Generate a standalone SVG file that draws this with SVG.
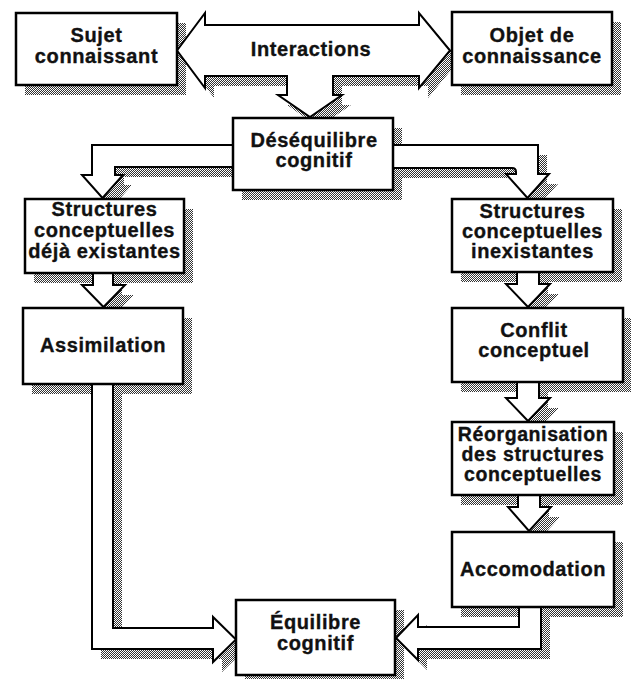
<svg xmlns="http://www.w3.org/2000/svg" width="631" height="679" viewBox="0 0 631 679">
  <defs>
    <pattern id="dots" width="2" height="2" patternUnits="userSpaceOnUse">
      <rect x="0" y="0" width="1" height="1" fill="#333"/>
      <rect x="1" y="1" width="1" height="1" fill="#333"/>
    </pattern>
    <style>
      .box { fill: #fff; stroke: #000; stroke-width: 2.5; }
      .arrow { fill: #fff; stroke: #000; stroke-width: 2; stroke-linejoin: miter; }
      .shadow { fill: url(#dots); stroke: none; }
      .lbl { font-family: "Liberation Sans", Arial, Helvetica, sans-serif; font-weight: bold; font-size: 20px; letter-spacing: 0.6px; text-anchor: middle; fill: #111; stroke: #111; stroke-width: 0.35px; }
      .sm { font-size: 19.5px; }
    </style>
  </defs>
  <rect x="0" y="0" width="631" height="679" fill="#fff"/>

  <g id="shadows" transform="translate(9,10)">
    <rect class="shadow" x="16" y="13" width="161" height="72"/>
    <rect class="shadow" x="452" y="12" width="160" height="73"/>
    <rect class="shadow" x="233" y="118" width="160" height="72"/>
    <rect class="shadow" x="25" y="199" width="159" height="74"/>
    <rect class="shadow" x="23" y="308" width="160" height="76"/>
    <rect class="shadow" x="452" y="199" width="161" height="73"/>
    <rect class="shadow" x="452" y="308" width="171" height="74"/>
    <rect class="shadow" x="452" y="422" width="162" height="73"/>
    <rect class="shadow" x="452" y="532" width="162" height="75"/>
    <rect class="shadow" x="236" y="600" width="159" height="75"/>
    <path class="shadow" d="M177,50.5 L205,13 L205,25 L419,25 L419,13 L450,50.5 L419,88 L419,76 L333,76 L333,95 L342,95 L310,117 L278,95 L287,95 L287,76 L205,76 L205,88 Z"/>
    <path class="shadow" d="M236,145 L92,145 L92,175 L82,175 L102.5,198 L123,175 L115,175 L115,167 L236,167 Z"/>
    <path class="shadow" d="M390,145 L538,145 L538,174 L549,174 L527.5,198 L506,174 L516,174 L516,168 L390,168 Z"/>
    <path class="shadow" d="M93,270 L93,285 L82,285 L103.5,307 L125,285 L113,285 L113,270 Z"/>
    <path class="shadow" d="M92,381 L92,649 L213,649 L213,662 L236,639.5 L213,617 L213,628 L113,628 L113,381 Z"/>
    <path class="shadow" d="M517,270 L517,284 L506,284 L528,307 L550,284 L539,284 L539,270 Z"/>
    <path class="shadow" d="M517,380 L517,398 L506,398 L528,421 L550,398 L539,398 L539,380 Z"/>
    <path class="shadow" d="M518,493 L518,507 L508,507 L529,531 L551,507 L540,507 L540,493 Z"/>
    <path class="shadow" d="M541,605 L541,649 L418,649 L418,660 L396,638 L418,615 L418,627 L519,627 L519,605 Z"/>
  </g>

  <g id="connectors">
    <path class="arrow" d="M177,50.5 L205,13 L205,25 L419,25 L419,13 L450,50.5 L419,88 L419,76 L333,76 L333,95 L342,95 L310,117 L278,95 L287,95 L287,76 L205,76 L205,88 Z"/>
    <text class="lbl" x="311" y="56">Interactions</text>
    <path class="arrow" d="M236,145 L92,145 L92,175 L82,175 L102.5,198 L123,175 L115,175 L115,167 L236,167 Z"/>
    <path class="arrow" d="M390,145 L538,145 L538,174 L549,174 L527.5,198 L506,174 L516,174 L516,172 Q516,168 512,168 L390,168 Z"/>
    <path class="arrow" d="M93,270 L93,285 L82,285 L103.5,307 L125,285 L113,285 L113,270 Z"/>
    <path class="arrow" d="M92,381 L92,649 L213,649 L213,662 L236,639.5 L213,617 L213,628 L113,628 L113,381 Z"/>
    <path class="arrow" d="M517,270 L517,284 L506,284 L528,307 L550,284 L539,284 L539,270 Z"/>
    <path class="arrow" d="M517,380 L517,398 L506,398 L528,421 L550,398 L539,398 L539,380 Z"/>
    <path class="arrow" d="M518,493 L518,507 L508,507 L529,531 L551,507 L540,507 L540,493 Z"/>
    <path class="arrow" d="M541,605 L541,649 L418,649 L418,660 L396,638 L418,615 L418,627 L519,627 L519,605 Z"/>
  </g>

  <g id="node-sujet">
    <rect class="box" x="16" y="13" width="161" height="72"/>
    <text class="lbl" x="96.5" y="42">Sujet</text>
    <text class="lbl" x="96.5" y="63">connaissant</text>
  </g>
  <g id="node-objet">
    <rect class="box" x="452" y="12" width="160" height="73"/>
    <text class="lbl" x="532" y="42">Objet de</text>
    <text class="lbl" x="532" y="63">connaissance</text>
  </g>
  <g id="node-desequilibre">
    <rect class="box" x="233" y="118" width="160" height="72"/>
    <text class="lbl" x="314" y="147">Déséquilibre</text>
    <text class="lbl" x="314" y="167">cognitif</text>
  </g>
  <g id="node-structures-existantes">
    <rect class="box" x="25" y="199" width="159" height="74"/>
    <text class="lbl" x="104.5" y="216">Structures</text>
    <text class="lbl" x="104.5" y="237">conceptuelles</text>
    <text class="lbl" x="104.5" y="258">déjà existantes</text>
  </g>
  <g id="node-assimilation">
    <rect class="box" x="23" y="308" width="160" height="76"/>
    <text class="lbl" x="103" y="352">Assimilation</text>
  </g>
  <g id="node-structures-inexistantes">
    <rect class="box" x="452" y="199" width="161" height="73"/>
    <text class="lbl" x="532.5" y="218">Structures</text>
    <text class="lbl" x="532.5" y="238">conceptuelles</text>
    <text class="lbl" x="532.5" y="258">inexistantes</text>
  </g>
  <g id="node-conflit">
    <rect class="box" x="452" y="308" width="171" height="74"/>
    <text class="lbl" x="534" y="337">Conflit</text>
    <text class="lbl" x="534" y="357">conceptuel</text>
  </g>
  <g id="node-reorganisation">
    <rect class="box" x="452" y="422" width="162" height="73"/>
    <text class="lbl sm" x="533" y="441">Réorganisation</text>
    <text class="lbl sm" x="533" y="461">des structures</text>
    <text class="lbl sm" x="533" y="481">conceptuelles</text>
  </g>
  <g id="node-accomodation">
    <rect class="box" x="452" y="532" width="162" height="75"/>
    <text class="lbl" x="533" y="576">Accomodation</text>
  </g>
  <g id="node-equilibre">
    <rect class="box" x="236" y="600" width="159" height="75"/>
    <text class="lbl" x="315.5" y="629">Équilibre</text>
    <text class="lbl" x="315.5" y="650">cognitif</text>
  </g>
</svg>
